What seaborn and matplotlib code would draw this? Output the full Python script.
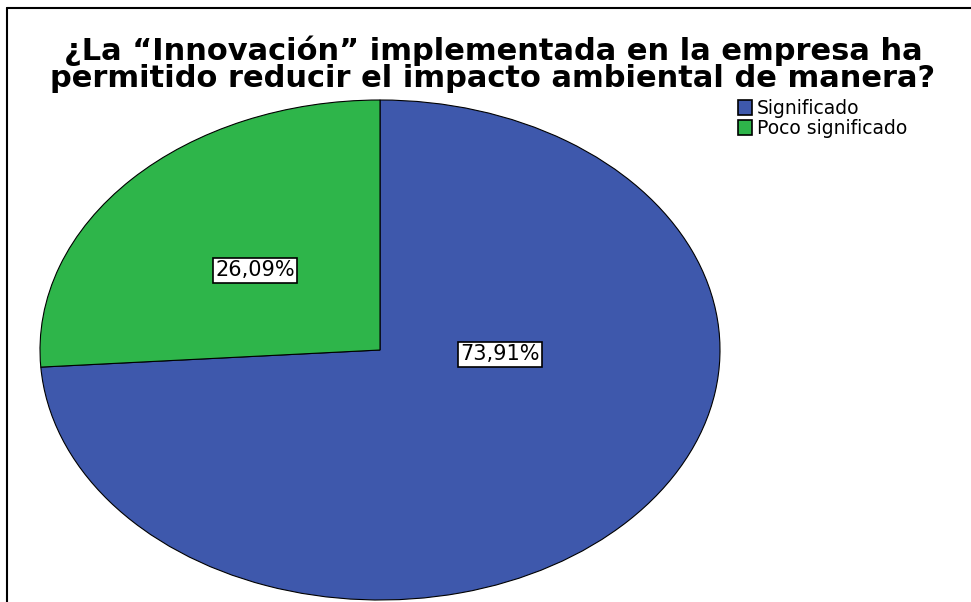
import numpy as np
import seaborn as sns
import matplotlib.pyplot as plt
from matplotlib.lines import Line2D
from matplotlib.patches import Patch

categories = ['Significado', 'Poco significado']
percentages = [73.91, 26.09]
pct_labels = ['73,91%', '26,09%']
title = '¿La “Innovación” implementada en la empresa ha\npermitido reducir el impacto ambiental de manera?'

sns.set_style('white')
plt.rcParams['font.family'] = ['DejaVu Sans']
plt.rcParams['text.color'] = 'black'
colors = sns.color_palette(['#3e58ac', '#2eb54a'])

W, H = 971, 602
fig = plt.figure(figsize=(W / 100, H / 100), dpi=100)

# pie axes: ellipse spans x 40..720, y 100..600 (pixels from top)
ax = fig.add_axes([40 / W, (H - 600) / H, 680 / W, 500 / H])
wedges, _ = ax.pie(percentages, colors=colors, startangle=90, counterclock=False,
                   radius=1, wedgeprops=dict(edgecolor='black', linewidth=0.8))
ax.set_aspect('auto')
ax.set_xlim(-1, 1)
ax.set_ylim(-1, 1)
ax.axis('off')

# percentage boxes (positions as in the SPSS output)
label_pos = [(0.353, -0.016), (-0.368, 0.32)]
for (x, y), lab in zip(label_pos, pct_labels):
    ax.text(x, y, lab, ha='center', va='center', fontsize=15, color='black',
            bbox=dict(boxstyle='square,pad=0.12', facecolor='white',
                      edgecolor='black', linewidth=1.2))

fig.text(493 / W, 1 - 64 / H, title, ha='center', va='center', color='black',
         fontsize=22, fontweight='bold', linespacing=0.93)

handles = [Patch(facecolor=c, edgecolor='black', linewidth=1.2) for c in colors]
fig.legend(handles, categories, loc='upper left', bbox_to_anchor=(738 / W, 1 - 99 / H),
           frameon=False, fontsize=13.5, handlelength=0.75, handleheight=0.9,
           handletextpad=0.25, labelspacing=0.05, borderaxespad=0, borderpad=0)

# outer frame (top and left edges)
fig.add_artist(Line2D([7 / W, 7 / W], [0, 1 - 8 / H], color='black', linewidth=1.5,
                      transform=fig.transFigure))
fig.add_artist(Line2D([7 / W, 1], [1 - 8 / H, 1 - 8 / H], color='black', linewidth=1.5,
                      transform=fig.transFigure))

fig.savefig('out.png', dpi=100)
